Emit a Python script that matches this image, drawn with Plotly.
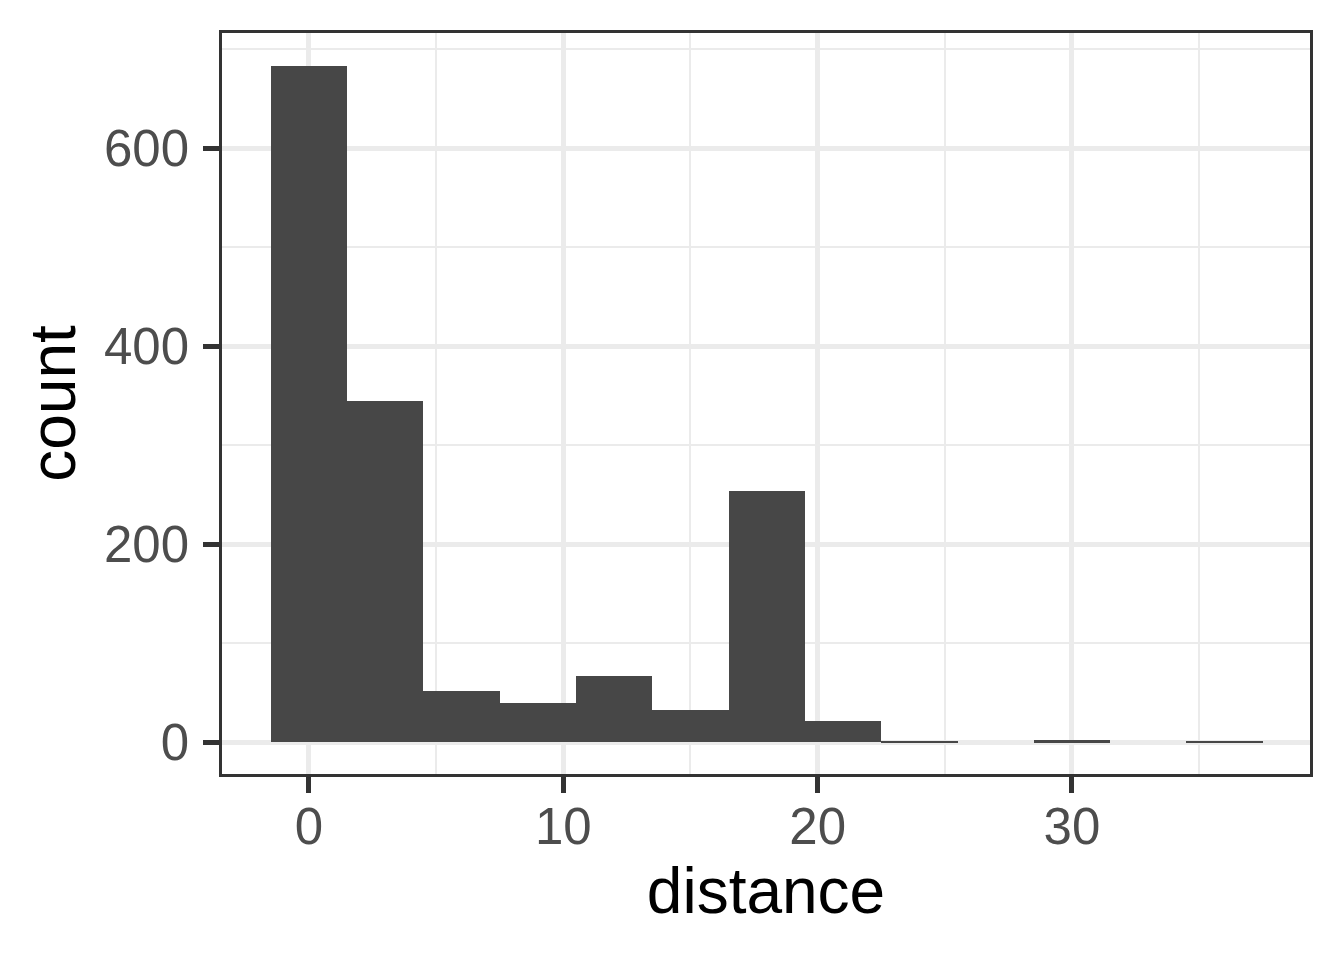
import plotly.graph_objects as go

# Histogram bins (binwidth 3, centred on multiples of 3)
bin_centers = [0, 3, 6, 9, 12, 15, 18, 21, 24, 27, 30, 33, 36]
counts = [683, 344, 52, 39, 67, 32, 254, 21, 1, 0, 2, 0, 1]
bin_width = 3

x_ticks = [0, 10, 20, 30]
x_minor = [5, 15, 25, 35]
y_ticks = [0, 200, 400, 600]
y_minor = [100, 300, 500, 700]

fig = go.Figure()
fig.add_trace(go.Bar(
    x=bin_centers, y=counts, width=[bin_width] * len(bin_centers),
    marker=dict(color="#474747", line=dict(width=0)),
    hoverinfo="x+y",
))

grid = "#EBEBEB"
axis_common = dict(
    showline=True, linecolor="#333333", linewidth=2.5, mirror=True,
    ticks="outside", tickcolor="#333333", ticklen=16, tickwidth=4.5,
    showgrid=True, gridcolor=grid, gridwidth=4.5, zeroline=False,
    automargin=False,
    tickfont=dict(family="Liberation Sans, Arial", size=51, color="#4D4D4D"),
)

fig.update_layout(
    width=1336, height=952,
    margin=dict(l=214, r=34, t=25, b=186),
    paper_bgcolor="white", plot_bgcolor="white",
    showlegend=False, bargap=0,
    xaxis=dict(
        **axis_common,
        range=[-3.42, 39.36], tickmode="array", tickvals=x_ticks,
        ticktext=[str(v) for v in x_ticks], ticklabelstandoff=-10,
        minor=dict(tickvals=x_minor, showgrid=True, gridcolor=grid, gridwidth=2.2, ticks=""),
        title=dict(text="distance", font=dict(family="Liberation Sans, Arial", size=64, color="black"), standoff=10),
    ),
    yaxis=dict(
        **axis_common,
        range=[-32.3, 716.2], tickmode="array", tickvals=y_ticks,
        ticktext=[str(v) for v in y_ticks], ticklabelstandoff=4,
        minor=dict(tickvals=y_minor, showgrid=True, gridcolor=grid, gridwidth=2.2, ticks=""),
        title=dict(text="count", font=dict(family="Liberation Sans, Arial", size=64, color="black"), standoff=8),
    ),
)

fig.write_html("out.html")
